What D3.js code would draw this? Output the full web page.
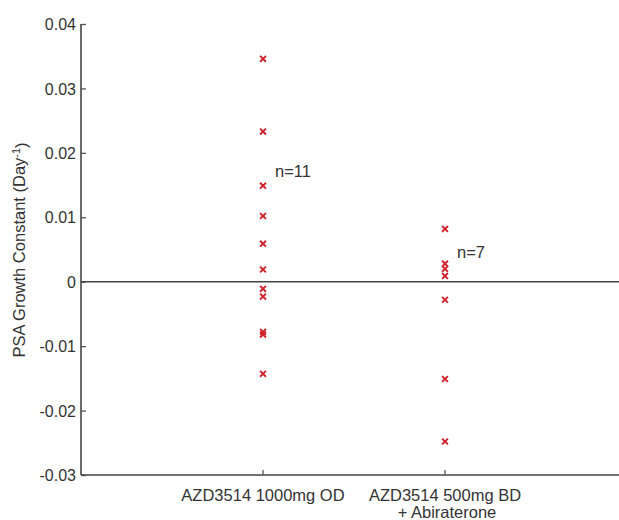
<!DOCTYPE html>
<html>
<head>
<meta charset="utf-8">
<script src="https://cdn.jsdelivr.net/npm/d3@7"></script>
<style>
  body { margin: 0; background: #fff; }
  text { font-family: "Liberation Sans", Arial, sans-serif; fill: #333; }
</style>
</head>
<body>
<svg width="619" height="520"></svg>
<script>
// data
var groups = ["AZD3514 1000mg OD", "AZD3514 500mg BD|+ Abiraterone"];
var nLabels = ["n=11", "n=7"];
var group1 = [0.0346, 0.0233, 0.0149, 0.0102, 0.0059, 0.0019, -0.0011, -0.0023, -0.0078, -0.0082, -0.0143];
var group2 = [0.0082, 0.0028, 0.0020, 0.0009, -0.0028, -0.0151, -0.0248];
var yTicks = [-0.03, -0.02, -0.01, 0, 0.01, 0.02, 0.03, 0.04];

var svg = d3.select("svg");
var padL = 81, padR = 619, padT = 24, padB = 475;

var x = d3.scaleLinear().domain([0, 3]).range([padL, padL + 546]);
var y = d3.scaleLinear().domain([-0.03, 0.04]).range([padB, padT]);

// y axis, ticks pointing inward (plain hyphen for negatives, like the original)
var yAxis = d3.axisRight(y).tickValues(yTicks).tickSize(5)
  .tickFormat(function(d) { return d === 0 ? "0" : (d < 0 ? "-" : "") + Math.abs(d).toFixed(2); });
var yg = svg.append("g").attr("transform", "translate(" + padL + ",0)").call(yAxis);
yg.select(".domain").remove();
yg.selectAll("text").attr("text-anchor", "end").attr("x", -5).attr("dy", "0.35em")
  .style("font-size", "16px").style("fill", "#333");
yg.selectAll("line").attr("stroke", "#555").attr("stroke-width", 1.3);
svg.append("line").attr("x1", padL).attr("x2", padL).attr("y1", padT).attr("y2", padB)
  .attr("stroke", "#444").attr("stroke-width", 1.6);

// x axis along the bottom, ticks pointing up
svg.append("line").attr("x1", padL).attr("x2", padR).attr("y1", padB).attr("y2", padB)
  .attr("stroke", "#444").attr("stroke-width", 1.6);
svg.selectAll(".xtick").data([1, 2]).enter().append("line")
  .attr("x1", x).attr("x2", x).attr("y1", padB).attr("y2", padB - 5)
  .attr("stroke", "#555").attr("stroke-width", 1.3);

var xl = svg.selectAll(".xlab").data(groups).enter().append("text")
  .attr("text-anchor", "middle")
  .attr("x", function(d, i) { return x(i + 1); })
  .attr("y", 501)
  .style("font-size", "16.5px");
xl.each(function(d) {
  var parts = d.split("|");
  var t = d3.select(this);
  parts.forEach(function(p, k) {
    t.append("tspan").attr("x", t.attr("x")).attr("dy", k === 0 ? 0 : "1.0em")
      .attr("dx", k === 0 ? 0 : 2).text(p);
  });
});

// zero line
svg.append("line").attr("x1", padL).attr("x2", padR).attr("y1", y(0)).attr("y2", y(0))
  .attr("stroke", "#444").attr("stroke-width", 1.6);

// y label
svg.append("text")
  .attr("transform", "translate(25," + 250 + ") rotate(-90)")
  .attr("text-anchor", "middle")
  .style("font-size", "16.5px")
  .call(function(t) {
    t.append("tspan").text("PSA Growth Constant (Day");
    t.append("tspan").attr("dy", "-0.45em").style("font-size", "11px").text("-1");
    t.append("tspan").attr("dy", "0.45em").text(")");
  });

// markers
var series = [group1, group2];
var pts = [];
series.forEach(function(s, i) { s.forEach(function(v) { pts.push({ g: i + 1, v: v }); }); });
var cross = d3.symbol().type(d3.symbolX).size(24);
svg.selectAll(".pt").data(pts).enter().append("path")
  .attr("d", cross)
  .attr("transform", function(d) { return "translate(" + x(d.g) + "," + y(d.v) + ")"; })
  .attr("fill", "none").attr("stroke", "#d0202a").attr("stroke-width", 1.9);

// n labels
svg.selectAll(".nlab").data(nLabels).enter().append("text")
  .attr("x", function(d, i) { return x(i + 1) + 12; })
  .attr("y", function(d, i) { return i === 0 ? 177 : 258; })
  .style("font-size", "16.5px")
  .text(function(d) { return d; });
</script>
</body>
</html>
